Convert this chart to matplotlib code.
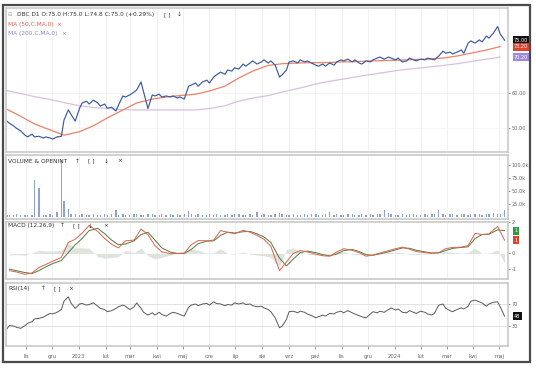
import matplotlib
matplotlib.use('Agg')
import matplotlib.pyplot as plt
import matplotlib.transforms as mtransforms
from matplotlib.patches import Rectangle
import pandas as pd
import numpy as np

plt.rcParams['font.family'] = ['DejaVu Sans']

# ---------------- data ----------------
dates = pd.bdate_range('2022-10-10', periods=412)[::3]      # 138 sampled trading days
ma_dates = dates[::4]                                        # 35 points for moving averages
macd_dates = dates[1::2]                                     # 69 points for MACD

price = [51.9, 51.3, 50.5, 49.9, 49.1, 47.9, 47.4, 48.2, 47.4, 47.6,
         47.1, 47.4, 47.1, 46.8, 47.4, 47.6, 52.2, 55.1, 53.9, 51.9,
         55.6, 57.1, 57.6, 56.8, 57.9, 57.1, 56.2, 56.8, 55.6, 55.9,
         54.8, 56.5, 59.1, 58.8, 59.4, 60.2, 60.8, 63.1, 60.2, 55.5,
         59.4, 59.1, 59.6, 58.8, 59.1, 58.8, 59.1, 58.5, 58.8, 58.2,
         61.9, 62.2, 62.8, 61.9, 63.1, 63.6, 62.8, 64.5, 65.1, 65.9,
         65.3, 66.5, 66.2, 67.1, 66.8, 68.2, 67.6, 68.5, 69.1, 68.2,
         68.8, 69.4, 68.5, 69.1, 67.9, 64.5, 65.1, 66.5, 68.8, 69.1,
         68.5, 69.4, 68.8, 69.1, 68.5, 67.9, 67.6, 68.2, 67.6, 68.5,
         67.9, 68.8, 69.4, 69.1, 69.6, 68.8, 69.4, 68.5, 68.2, 69.1,
         68.8, 69.4, 69.9, 70.2, 69.6, 70.2, 69.9, 69.4, 69.9, 68.8,
         69.1, 69.9, 69.4, 69.1, 69.6, 69.4, 69.9, 69.6, 69.4, 70.5,
         71.9, 71.3, 71.6, 71.1, 71.6, 72.2, 71.3, 74.2, 74.8, 74.2,
         75.1, 74.5, 76.2, 75.6, 77.0, 78.9, 76.8, 75.0]

ma50 = [55.3, 53.3, 51.1, 49.4, 47.9, 48.9, 50.6, 52.8, 55.1, 57.1,
        58.2, 58.8, 59.2, 59.6, 60.5, 61.9, 64.2, 66.2, 67.8, 68.3,
        68.5, 68.6, 68.6, 68.8, 68.9, 69.1, 69.2, 69.3, 69.5, 69.6,
        69.9, 70.5, 71.3, 72.2, 73.2]

ma200 = [60.6, 59.8, 58.9, 58.1, 57.2, 56.3, 55.8, 55.5, 55.2, 55.1,
         55.1, 55.1, 55.1, 55.1, 55.5, 56.3, 57.6, 58.5, 59.2, 60.2,
         61.2, 62.2, 63.1, 63.8, 64.5, 65.2, 65.8, 66.4, 66.9, 67.3,
         67.8, 68.3, 68.9, 69.6, 70.2]

volume_k = [3, 4, 3, 5, 3, 4, 3, 4, 71, 56,
            4, 3, 5, 4, 9, 110, 30, 15, 6, 5,
            4, 5, 3, 4, 6, 4, 3, 5, 4, 6,
            13, 4, 5, 3, 4, 6, 5, 4, 3, 5,
            6, 4, 3, 5, 4, 5, 3, 6, 4, 5,
            12, 5, 4, 6, 3, 4, 5, 4, 6, 4,
            3, 5, 4, 6, 5, 4, 3, 5, 4, 10,
            4, 5, 3, 4, 6, 8, 5, 4, 3, 5,
            4, 3, 5, 4, 6, 5, 4, 3, 5, 10,
            4, 5, 3, 4, 5, 6, 4, 3, 5, 4,
            5, 4, 6, 5, 14, 8, 5, 4, 3, 5,
            4, 6, 5, 4, 3, 5, 4, 6, 5, 13,
            5, 4, 6, 5, 4, 5, 6, 4, 5, 6,
            5, 4, 6, 5, 7, 6, 5, 13]

macd = [-1.10, -1.18, -1.33, -1.25, -0.90, -0.70, -0.50, -0.25, 0.70, 0.90,
        1.30, 1.78, 1.40, 0.95, 0.58, 0.35, 0.80, 0.85, 1.55, 1.20,
        0.50, 0.10, -0.02, 0.00, 0.02, 0.55, 0.82, 0.80, 0.85, 1.45,
        1.35, 1.25, 1.47, 1.35, 1.15, 0.90, 0.45, -1.10, -0.55, 0.00,
        0.18, 0.10, -0.05, -0.15, -0.18, 0.08, 0.30, 0.20, 0.05, -0.18,
        -0.10, 0.02, 0.18, 0.30, 0.40, 0.27, 0.12, 0.05, 0.00, 0.05,
        0.30, 0.38, 0.40, 0.50, 1.28, 1.20, 1.25, 1.72, 0.84]

signal = [-1.00, -1.10, -1.22, -1.28, -1.10, -0.85, -0.65, -0.45, 0.05, 0.55,
          0.95, 1.45, 1.60, 1.25, 0.85, 0.55, 0.60, 0.80, 1.20, 1.35,
          0.85, 0.35, 0.08, 0.00, 0.00, 0.25, 0.62, 0.78, 0.80, 1.15,
          1.35, 1.30, 1.38, 1.40, 1.25, 1.05, 0.70, -0.30, -0.80, -0.35,
          0.05, 0.15, 0.05, -0.08, -0.15, -0.05, 0.18, 0.25, 0.12, -0.08,
          -0.12, -0.03, 0.10, 0.22, 0.35, 0.33, 0.20, 0.10, 0.03, 0.03,
          0.18, 0.32, 0.38, 0.42, 0.95, 1.20, 1.22, 1.50, 1.45]

rsi = [25, 31, 30, 28, 26, 31, 35, 38, 43, 44,
       46, 49, 53, 52, 55, 60, 75, 83, 72, 62,
       70, 71, 68, 69, 72, 66, 62, 60, 56, 58,
       62, 65, 68, 66, 60, 65, 72, 62, 55, 50,
       54, 50, 55, 51, 48, 53, 55, 53, 51, 48,
       64, 68, 70, 67, 70, 71, 68, 74, 71, 70,
       67, 69, 68, 72, 70, 72, 69, 70, 67, 65,
       66, 63, 60, 56, 45, 27, 30, 42, 56, 57,
       54, 57, 55, 52, 49, 45, 47, 50, 48, 53,
       52, 55, 57, 54, 58, 54, 52, 49, 47, 45,
       52, 56, 54, 57, 55, 60, 63, 59, 61, 55,
       54, 58, 55, 53, 57, 55, 52, 50, 53, 68,
       70, 62, 58, 56, 60, 63, 61, 66, 75, 77,
       74, 72, 66, 70, 73, 74, 65, 48]

month_ticks = pd.date_range('2022-11-01', '2024-05-01', freq='MS')
month_labels = ['lis', 'gru', '2023', 'lut', 'mar', 'kwi', 'maj', 'cze', 'lip',
                'sie', 'wrz', 'paź', 'lis', 'gru', '2024', 'lut', 'mar', 'kwi', 'maj']

# ---------------- figure ----------------
W, H = 536, 372
fig = plt.figure(figsize=(W / 100, H / 100), dpi=100)


def axes_px(top, bottom, left=6, right=508):
    return fig.add_axes([left / W, 1 - bottom / H, (right - left) / W, (bottom - top) / H])


ax_p = axes_px(8, 152)
ax_v = axes_px(155, 219)
ax_m = axes_px(222, 279)
ax_r = axes_px(283, 346)
axes = [ax_p, ax_v, ax_m, ax_r]

xlim = (pd.Timestamp('2022-10-09'), pd.Timestamp('2024-05-11'))
for ax in axes:
    ax.set_xlim(*xlim)
    for s in ax.spines.values():
        s.set_color('#c9c9c9')
        s.set_linewidth(1.2)
    ax.set_xticks(month_ticks)
    ax.grid(axis='x', color='#ececec', lw=0.5)
    ax.tick_params(axis='y', left=False, labelleft=False, right=True, labelright=True,
                   length=1.5, width=0.5, labelsize=3.6, colors='#666666', pad=1)
    ax.set_axisbelow(True)
for ax in axes[:-1]:
    ax.tick_params(axis='x', bottom=False, labelbottom=False)
ax_r.set_xticklabels(month_labels)
ax_r.tick_params(axis='x', length=2.5, width=0.5, labelsize=3.8, colors='#666666', pad=3)


def value_box(ax, y, txt, color, tcolor='white'):
    tr = mtransforms.blended_transform_factory(ax.transAxes, ax.transData)
    ax.text(1.012, y, txt, transform=tr, fontsize=3.6, color=tcolor, va='center', ha='left',
            bbox=dict(boxstyle='square,pad=0.3', fc=color, ec='none'), clip_on=False, zorder=10)


small = dict(fontsize=4.2, va='center', ha='left')


def header(ax, y, parts, color='#333333'):
    # parts: list of (axes-x, text)
    for x, t in parts:
        ax.text(x, y, t, transform=ax.transAxes, color=color, **small)


# ---- price panel ----
ax_p.plot(ma_dates, ma200, color='#d9bfe0', lw=0.9)
ax_p.plot(ma_dates, ma50, color='#e9826a', lw=0.9)
ax_p.plot(dates, price, color='#3a5aa0', lw=0.85)
ax_p.set_ylim(43.1, 84.2)
ax_p.set_yticks([50, 60])
ax_p.set_yticklabels(['50.00', '60.00'])
ax_p.grid(axis='y', color='#f2f2f2', lw=0.5)
value_box(ax_p, price[-1], f'{price[-1]:.2f}', '#111111')
value_box(ax_p, ma50[-1], f'{ma50[-1]:.2f}', '#e0432c')
value_box(ax_p, ma200[-1], f'{ma200[-1]:.2f}', '#a088dc')
ax_p.text(0.003, 0.952, '⊟', transform=ax_p.transAxes, color='#aaaaaa',
          fontsize=3.6, va='center', ha='left')
header(ax_p, 0.952, [(0.022, 'DBC D1 O:75.0 H:75.0 L:74.8 C:75.0 (+0.29%)'),
                     (0.314, '[ ]'), (0.340, '↓')])
header(ax_p, 0.882, [(0.004, 'MA (50,C,MA,0)'), (0.100, '×')], color='#e0604a')
header(ax_p, 0.820, [(0.004, 'MA (200,C,MA,0)'), (0.110, '×')], color='#9585cc')

# ---- volume panel ----
ax_v.bar(dates, np.array(volume_k) * 1000, width=1.6, color='#8da2d0', lw=0)
ax_v.set_ylim(-3800, 119000)
ax_v.set_yticks([25000, 50000, 75000, 100000])
ax_v.set_yticklabels(['25.0k', '50.0k', '75.0k', '100.0k'])
header(ax_v, 0.905, [(0.004, 'VOLUME & OPENINT'), (0.136, '↑'), (0.164, '[ ]'),
                     (0.195, '↓'), (0.222, '×')])

# ---- MACD panel ----
hist = np.array(macd) - np.array(signal)
ax_m.fill_between(macd_dates, 0, hist, color='#dde3dd', lw=0)
ax_m.plot(macd_dates, signal, color='#4f7d3c', lw=0.7)
ax_m.plot(macd_dates, macd, color='#e2604c', lw=0.7)
ax_m.set_ylim(-1.63, 2.0)
ax_m.set_yticks([-1, 0, 2])
ax_m.set_yticklabels(['-1', '0', '2'])
value_box(ax_m, signal[-1], f'{signal[-1]:.0f}', '#2f9a3f')
value_box(ax_m, macd[-1], f'{macd[-1]:.0f}', '#e0432c')
header(ax_m, 0.93, [(0.004, 'MACD (12,26,9)'), (0.108, '↑'), (0.134, '[ ]'),
                    (0.163, '↓'), (0.193, '×')])

# ---- RSI panel ----
ax_r.axhline(70, color='#dddddd', lw=0.6)
ax_r.axhline(30, color='#dddddd', lw=0.6)
ax_r.plot(dates, rsi, color='#5a5a5a', lw=0.7)
ax_r.set_ylim(-6, 108)
ax_r.set_yticks([30, 70])
ax_r.set_yticklabels(['30', '70'])
value_box(ax_r, rsi[-1], f'{rsi[-1]:.0f}', '#111111')
header(ax_r, 0.915, [(0.004, 'RSI(14)'), (0.070, '↑'), (0.096, '[ ]'), (0.124, '×')])

# ---- outer frame ----
fig.patches.append(Rectangle((3 / W, 1 - 362 / H), 527 / W, 357 / H, transform=fig.transFigure,
                             fill=False, ec='#4a4a4a', lw=1.6))

fig.savefig('out.png', dpi=100)
